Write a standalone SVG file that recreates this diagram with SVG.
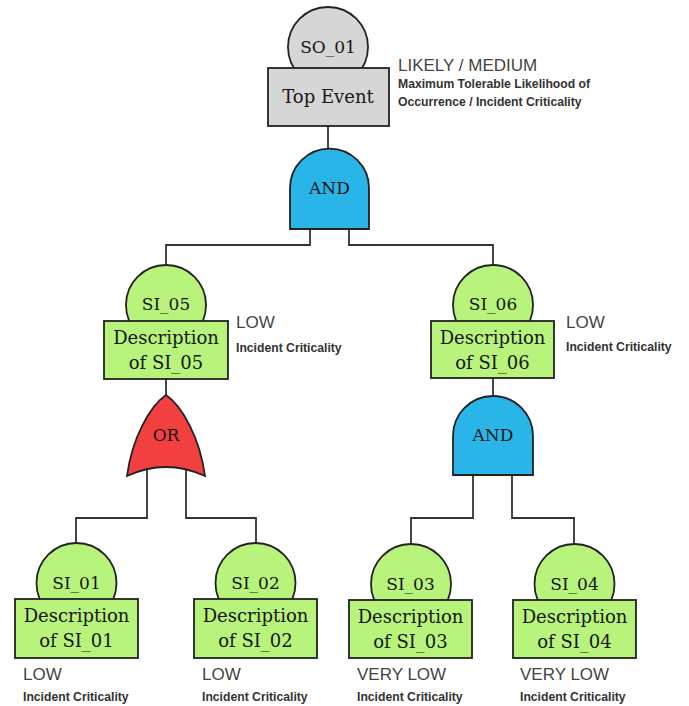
<svg xmlns="http://www.w3.org/2000/svg" width="689" height="706" viewBox="0 0 689 706">
<style>
.ev{fill:#b8f47c;stroke:#222;stroke-width:1.8}
.top{fill:#d6d6d6;stroke:#222;stroke-width:1.8}
.and{fill:#29b5e8;stroke:#222;stroke-width:1.8}
.or{fill:#f23f3f;stroke:#222;stroke-width:1.8}
.nt{font-family:"DejaVu Serif","Liberation Serif",serif;fill:#161616;text-anchor:middle}
.id{font-size:17px}
.desc{font-size:18px}
.gt{font-size:17px}
.lvl{font-family:"Liberation Sans",Arial,sans-serif;font-size:17px;fill:#444}
.sub{font-family:"Liberation Sans",Arial,sans-serif;font-size:12.2px;font-weight:bold;fill:#333}
.con{fill:none;stroke:#333;stroke-width:1.8}
</style>
<rect width="689" height="706" fill="#fff"/>
<g id="connectors">
<path class="con" d="M328,126 V150"/>
<path class="con" d="M310,229 V245 H166 V265"/>
<path class="con" d="M349,229 V245 H493 V265"/>
<path class="con" d="M166,379 V396"/>
<path class="con" d="M147,468 V518 H76 V543"/>
<path class="con" d="M186,468 V518 H256 V543"/>
<path class="con" d="M493,378 V396"/>
<path class="con" d="M473,475 V518 H411 V544"/>
<path class="con" d="M512,475 V518 H574 V544"/>
</g>
<g id="SO_01">
<circle class="top" cx="328" cy="47" r="40"/>
<rect class="top" x="268" y="68" width="121" height="58"/>
<text class="nt id" x="328" y="53">SO_01</text>
<text class="nt desc" x="328" y="103">Top Event</text>
<text class="lvl" x="398" y="71">LIKELY / MEDIUM</text>
<text class="sub" x="398" y="88">Maximum Tolerable Likelihood of</text>
<text class="sub" x="398" y="106">Occurrence / Incident Criticality</text>
</g>
<g id="AND_1">
<path class="and" d="M290,229 V188 A39.5,39.5 0 0 1 369,188 V229 Z"/>
<text class="nt gt" x="329.5" y="194">AND</text>
</g>
<g id="SI_05">
<circle class="ev" cx="166" cy="305" r="40"/>
<rect class="ev" x="104" y="321" width="124" height="58"/>
<text class="nt id" x="166" y="310">SI_05</text>
<text class="nt desc" x="166" y="344">Description</text>
<text class="nt desc" x="166" y="369">of SI_05</text>
<text class="lvl" x="236" y="328">LOW</text>
<text class="sub" x="236" y="352">Incident Criticality</text>
</g>
<g id="SI_06">
<circle class="ev" cx="493" cy="305" r="40"/>
<rect class="ev" x="431" y="321" width="123" height="57"/>
<text class="nt id" x="493" y="310">SI_06</text>
<text class="nt desc" x="492.5" y="344">Description</text>
<text class="nt desc" x="492.5" y="369">of SI_06</text>
<text class="lvl" x="566" y="328">LOW</text>
<text class="sub" x="566" y="351">Incident Criticality</text>
</g>
<g id="OR_1">
<path class="or" d="M166,395 C150,406 132,438 127,476 Q166,458 205,476 C200,438 182,406 166,395 Z"/>
<text class="nt gt" x="166" y="441">OR</text>
</g>
<g id="AND_2">
<path class="and" d="M453,475 V436 A40,40 0 0 1 533,436 V475 Z"/>
<text class="nt gt" x="493" y="441">AND</text>
</g>
<g id="SI_01">
<circle class="ev" cx="76.5" cy="583" r="40"/>
<rect class="ev" x="15" y="599" width="123" height="59"/>
<text class="nt id" x="76.5" y="589">SI_01</text>
<text class="nt desc" x="76.5" y="622">Description</text>
<text class="nt desc" x="76.5" y="647">of SI_01</text>
<text class="lvl" x="23" y="680">LOW</text>
<text class="sub" x="23" y="701">Incident Criticality</text>
</g>
<g id="SI_02">
<circle class="ev" cx="255.5" cy="583" r="40"/>
<rect class="ev" x="194" y="599" width="123" height="59"/>
<text class="nt id" x="255.5" y="589">SI_02</text>
<text class="nt desc" x="255.5" y="622">Description</text>
<text class="nt desc" x="255.5" y="647">of SI_02</text>
<text class="lvl" x="202" y="680">LOW</text>
<text class="sub" x="202" y="701">Incident Criticality</text>
</g>
<g id="SI_03">
<circle class="ev" cx="411" cy="584" r="40"/>
<rect class="ev" x="349" y="600" width="123" height="58"/>
<text class="nt id" x="410.5" y="590">SI_03</text>
<text class="nt desc" x="410.5" y="623">Description</text>
<text class="nt desc" x="410.5" y="648">of SI_03</text>
<text class="lvl" x="357" y="680">VERY LOW</text>
<text class="sub" x="357" y="701">Incident Criticality</text>
</g>
<g id="SI_04">
<circle class="ev" cx="574.5" cy="584" r="40"/>
<rect class="ev" x="513" y="600" width="123" height="58"/>
<text class="nt id" x="574.5" y="590">SI_04</text>
<text class="nt desc" x="574.5" y="623">Description</text>
<text class="nt desc" x="574.5" y="648">of SI_04</text>
<text class="lvl" x="520" y="680">VERY LOW</text>
<text class="sub" x="520" y="701">Incident Criticality</text>
</g>
</svg>
